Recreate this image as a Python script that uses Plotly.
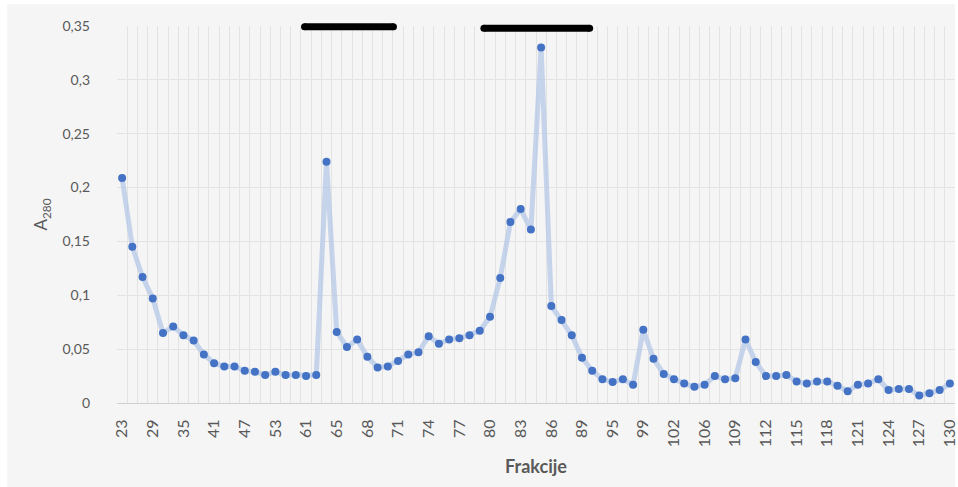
import plotly.graph_objects as go

# Fraction numbers (x categories) and absorbance at 280 nm
fractions = [
    23, 25, 27, 29, 31, 33, 35, 37, 39, 41, 43, 45, 47, 49, 51, 53, 55, 58,
    61, 62, 63, 65, 66, 67, 68, 69, 70, 71, 72, 73, 74, 75, 76, 77, 78, 79,
    80, 81, 82, 83, 84, 85, 86, 87, 88, 89, 91, 93, 95, 97, 98, 99, 100, 101,
    102, 104, 105, 106, 107, 108, 109, 110, 111, 112, 113, 114, 115, 116, 117,
    118, 119, 120, 121, 122, 123, 124, 125, 126, 127, 128, 129, 130,
]
a280 = [
    0.209, 0.145, 0.117, 0.097, 0.065, 0.071, 0.063, 0.058, 0.045, 0.037,
    0.034, 0.034, 0.030, 0.029, 0.026, 0.029, 0.026, 0.026, 0.025, 0.026,
    0.224, 0.066, 0.052, 0.059, 0.043, 0.033, 0.034, 0.039, 0.045, 0.047,
    0.062, 0.055, 0.059, 0.060, 0.063, 0.067, 0.080, 0.116, 0.168, 0.180,
    0.161, 0.330, 0.090, 0.077, 0.063, 0.042, 0.030, 0.022, 0.0195, 0.022,
    0.017, 0.068, 0.041, 0.027, 0.022, 0.018, 0.015, 0.017, 0.025, 0.022,
    0.023, 0.059, 0.038, 0.025, 0.025, 0.026, 0.020, 0.018, 0.020, 0.020,
    0.016, 0.011, 0.017, 0.018, 0.022, 0.012, 0.013, 0.013, 0.007, 0.009,
    0.012, 0.018,
]
y_ticks = [0, 0.05, 0.1, 0.15, 0.2, 0.25, 0.3, 0.35]

# Pooled fraction ranges, marked by bars above the plot (start, end fraction)
pools = [(61, 70), (79, 89)]

pos = list(range(len(fractions)))
label_step = 3
font_family = "Lato, Open Sans, sans-serif"
text_grey = "#595959"
grid_grey = "#e3e3e3"
y_max = 0.35

fig = go.Figure()
fig.add_trace(go.Scatter(
    x=pos, y=a280, mode="lines+markers",
    line=dict(color="rgba(180,199,231,0.75)", width=5),
    marker=dict(color="#4472C4", size=8),
    showlegend=False, hoverinfo="skip",
))

# Bars for the pooled ranges, with round ends (paper y so they are not cut at the top)
bar_offsets = [(-0.15, 0.55), (0.4, 0.75)]
bar_levels = [0.3494, 0.348]
for (start, end), (o0, o1), lvl in zip(pools, bar_offsets, bar_levels):
    x0 = fractions.index(start) + o0
    x1 = fractions.index(end) + o1
    fig.add_shape(type="line", xref="x", yref="paper", x0=x0, x1=x1,
                  y0=lvl / y_max, y1=lvl / y_max,
                  line=dict(color="black", width=7))
    fig.add_trace(go.Scatter(
        x=[x0, x1], y=[lvl, lvl], mode="markers",
        marker=dict(color="black", size=7), cliponaxis=False,
        showlegend=False, hoverinfo="skip",
    ))

# Light frame behind the chart
fig.add_shape(type="rect", xref="paper", yref="paper", layer="below",
              x0=-0.131, x1=1.0, y0=-0.223, y1=1.058,
              fillcolor="#f5f5f5", line=dict(width=0))

fig.update_layout(
    width=958, height=487,
    margin=dict(l=117, r=0, t=26, b=84),
    paper_bgcolor="white", plot_bgcolor="white",
    separators=", ",
    font=dict(family=font_family, color=text_grey),
    xaxis=dict(
        range=[-0.5, len(fractions) - 0.5],
        tickmode="array",
        tickvals=pos[::label_step],
        ticktext=[str(f) for f in fractions[::label_step]],
        tickangle=-90,
        tickfont=dict(size=16, color=text_grey),
        ticklabelstandoff=9,
        ticklabeloverflow="allow",
        showgrid=False,
        minor=dict(tickvals=[p - 0.5 for p in pos] + [pos[-1] + 0.5],
                   showgrid=True, gridcolor=grid_grey, gridwidth=1),
        showline=True, linecolor="#d0d0d0", linewidth=1,
        zeroline=False, ticks="",
        title=dict(text="<b>Frakcije</b>", font=dict(size=18, color=text_grey),
                   standoff=14),
    ),
    yaxis=dict(
        range=[0, y_max],
        tickmode="array", tickvals=y_ticks,
        tickfont=dict(size=14, color=text_grey),
        ticklabelstandoff=26,
        showgrid=True, gridcolor=grid_grey, gridwidth=1,
        zeroline=False, showline=False, ticks="",
        title=dict(text="A<sub>280</sub>", font=dict(size=17, color=text_grey),
                   standoff=10),
    ),
)

fig.write_html("out.html")
